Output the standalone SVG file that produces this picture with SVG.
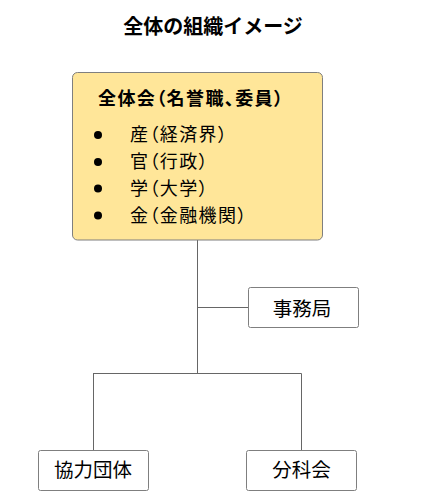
<svg xmlns="http://www.w3.org/2000/svg" width="427" height="500" viewBox="0 0 427 500">
<style>
.box{fill:#ffffff;stroke:#7f7f7f;stroke-width:1}
.main{fill:#ffe699;stroke:#7f7f7f;stroke-width:1}
.t{font-family:"Noto Sans CJK JP","Noto Sans CJK SC",sans-serif;fill:#000}
.p{font-feature-settings:"palt" 1;letter-spacing:1.4px}
.c{text-anchor:middle;font-size:19.5px}
.item{font-size:18px}
.ln{stroke:#666;stroke-width:1;fill:none}
</style>
<rect width="427" height="500" fill="#ffffff"/>
<text class="t" x="213" y="34" text-anchor="middle" font-size="20" font-weight="bold">全体の組織イメージ</text>
<g id="connectors">
<path class="ln" d="M197.5,240 V374 M197.5,307.5 H248 M93,373.5 H301.5 M93.5,373.5 V450 M301.5,373.5 V450"/>
</g>
<g id="zentaikai">
<rect class="main" x="72.5" y="72.5" width="250" height="167.5" rx="5"/>
<text class="t p" x="98" y="105" font-size="18" font-weight="bold">全体会（名誉職、委員）</text>
<circle cx="98" cy="135" r="4" fill="#000"/>
<circle cx="98" cy="162" r="4" fill="#000"/>
<circle cx="98" cy="188.5" r="4" fill="#000"/>
<circle cx="98" cy="215.5" r="4" fill="#000"/>
<text class="t p item" x="130" y="140.5">産（経済界）</text>
<text class="t p item" x="130" y="167.5">官（行政）</text>
<text class="t p item" x="130" y="194.5">学（大学）</text>
<text class="t p item" x="130" y="221.5">金（金融機関）</text>
</g>
<g id="jimukyoku">
<rect class="box" x="248.5" y="287.5" width="110" height="40" rx="2"/>
<text class="t c" x="302" y="315.5">事務局</text>
</g>
<g id="kyoryokudantai">
<rect class="box" x="38.5" y="450.5" width="110" height="40" rx="2"/>
<text class="t c" x="93" y="477">協力団体</text>
</g>
<g id="bunkakai">
<rect class="box" x="246.5" y="450.5" width="110" height="40" rx="2"/>
<text class="t c" x="301.5" y="477">分科会</text>
</g>
</svg>
